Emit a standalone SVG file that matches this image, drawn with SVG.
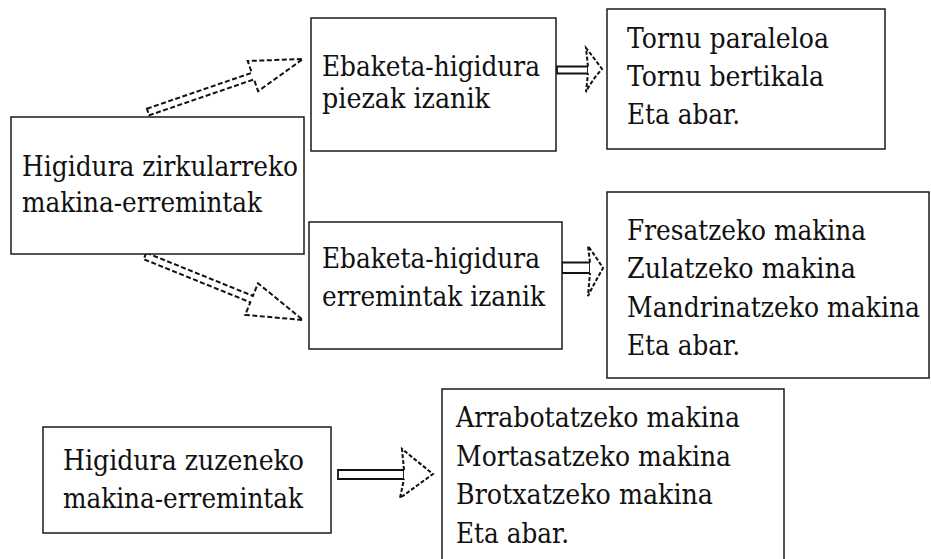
<svg xmlns="http://www.w3.org/2000/svg" width="931" height="559" viewBox="0 0 931 559">
  <style>
    .box { fill: #ffffff; stroke: #1a1a1a; stroke-width: 1.5; }
    .label { font-family: "DejaVu Serif", serif; font-size: 28.5px; fill: #111111; }
    .shaft { fill: #ffffff; stroke: #111111; stroke-width: 1.8; stroke-linejoin: miter; }
    .head { fill: #ffffff; stroke: #111111; stroke-width: 2; stroke-dasharray: 4 2; stroke-linejoin: miter; }
    .hatched { fill: #ffffff; stroke: #111111; stroke-width: 2; stroke-dasharray: 5 2.5; stroke-linejoin: miter; }
  </style>
  <rect width="931" height="559" fill="#ffffff"/>

  <!-- connectors -->
  <g id="connectors">
    <!-- circular motion -> workpiece cutting motion -->
    <polygon class="hatched" points="146.9,108.7 251.8,72.8 247.7,61.0 303,59 258.1,91.2 254.0,79.4 149.1,115.3"/>
    <!-- circular motion -> tool cutting motion -->
    <polygon class="hatched" points="146.3,252.8 252.9,295.9 258.0,283.3 303,320 245.2,314.9 250.3,302.3 143.7,259.2"/>
    <!-- workpiece cutting motion -> lathes -->
    <g id="arrow-b-c">
      <path class="shaft" d="M557,66.5 L588,66.5 L588,73.5 L557,73.5 Z"/>
      <path class="head" d="M588,66.5 L586,48 Q594,58 602,69 Q592,80 586,92 L588,73.5"/>
    </g>
    <!-- tool cutting motion -> milling/drilling machines -->
    <g id="arrow-d-e">
      <path class="shaft" d="M562,262.5 L590,262.5 L590,273 L562,273 Z"/>
      <path class="head" d="M590,262.5 L588,246 Q596,257 603,268 Q595,282 588,296 L590,273"/>
    </g>
    <!-- linear motion -> planing/mortising machines -->
    <g id="arrow-f-g">
      <path class="shaft" d="M338,470 L404,470 L404,479 L338,479 Z"/>
      <path class="head" d="M404,470 L402,449 L433,474 L400,498 L404,479"/>
    </g>
  </g>

  <!-- nodes -->
  <g id="node-circular">
    <rect class="box" x="11" y="117" width="293" height="137"/>
    <text class="label" x="22" y="176" textLength="276" lengthAdjust="spacingAndGlyphs">Higidura zirkularreko</text>
    <text class="label" x="22" y="212" textLength="240" lengthAdjust="spacingAndGlyphs">makina-erremintak</text>
  </g>

  <g id="node-piece-cut">
    <rect class="box" x="311" y="18" width="245" height="133"/>
    <text class="label" x="322" y="76" textLength="218" lengthAdjust="spacingAndGlyphs">Ebaketa-higidura</text>
    <text class="label" x="322" y="108" textLength="168" lengthAdjust="spacingAndGlyphs">piezak izanik</text>
  </g>

  <g id="node-lathes">
    <rect class="box" x="607" y="9" width="278" height="140"/>
    <text class="label" x="627" y="48" textLength="202" lengthAdjust="spacingAndGlyphs">Tornu paraleloa</text>
    <text class="label" x="627" y="86" textLength="197" lengthAdjust="spacingAndGlyphs">Tornu bertikala</text>
    <text class="label" x="627" y="124" textLength="113" lengthAdjust="spacingAndGlyphs">Eta abar.</text>
  </g>

  <g id="node-tool-cut">
    <rect class="box" x="309" y="222" width="253" height="127"/>
    <text class="label" x="322" y="268" textLength="218" lengthAdjust="spacingAndGlyphs">Ebaketa-higidura</text>
    <text class="label" x="322" y="306" textLength="223" lengthAdjust="spacingAndGlyphs">erremintak izanik</text>
  </g>

  <g id="node-milling">
    <rect class="box" x="607" y="192" width="322" height="186"/>
    <text class="label" x="627" y="240" textLength="239" lengthAdjust="spacingAndGlyphs">Fresatzeko makina</text>
    <text class="label" x="627" y="278" textLength="229" lengthAdjust="spacingAndGlyphs">Zulatzeko makina</text>
    <text class="label" x="627" y="317" textLength="293" lengthAdjust="spacingAndGlyphs">Mandrinatzeko makina</text>
    <text class="label" x="627" y="355" textLength="113" lengthAdjust="spacingAndGlyphs">Eta abar.</text>
  </g>

  <g id="node-linear">
    <rect class="box" x="43" y="427" width="288" height="106"/>
    <text class="label" x="63" y="470" textLength="241" lengthAdjust="spacingAndGlyphs">Higidura zuzeneko</text>
    <text class="label" x="63" y="508" textLength="240" lengthAdjust="spacingAndGlyphs">makina-erremintak</text>
  </g>

  <g id="node-planing">
    <rect class="box" x="442" y="389" width="342" height="190"/>
    <text class="label" x="456" y="427" textLength="284" lengthAdjust="spacingAndGlyphs">Arrabotatzeko makina</text>
    <text class="label" x="456" y="466" textLength="275" lengthAdjust="spacingAndGlyphs">Mortasatzeko makina</text>
    <text class="label" x="456" y="504" textLength="257" lengthAdjust="spacingAndGlyphs">Brotxatzeko makina</text>
    <text class="label" x="456" y="543" textLength="113" lengthAdjust="spacingAndGlyphs">Eta abar.</text>
  </g>
</svg>
